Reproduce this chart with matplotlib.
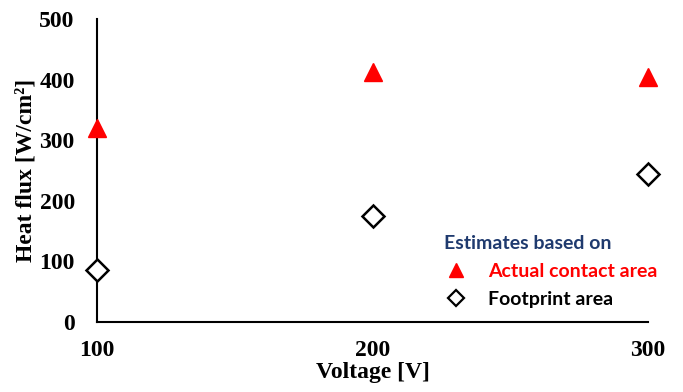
import matplotlib.pyplot as plt
from matplotlib.lines import Line2D

voltage = [100, 200, 300]
actual_contact = [320, 412, 404]
footprint = [86, 175, 244]

serif = ["Liberation Serif", "DejaVu Serif"]

fig = plt.figure(figsize=(6.83, 3.92), dpi=100)
ax = fig.add_axes([0.142, 0.1786, 0.807, 0.773])

ax.plot(voltage, actual_contact, linestyle="none", marker="^", markersize=13,
        color="#FF0000", clip_on=False, zorder=3)
ax.plot(voltage, footprint, linestyle="none", marker="D", markersize=11,
        markerfacecolor="white", markeredgecolor="black", markeredgewidth=1.8,
        clip_on=False, zorder=3)

ax.set_xlim(100, 300)
ax.set_ylim(0, 500)
ax.set_xticks([100, 200, 300])
ax.set_yticks(range(0, 501, 100))

for side in ("top", "right"):
    ax.spines[side].set_visible(False)
for side in ("left", "bottom"):
    ax.spines[side].set_linewidth(1.5)
    ax.spines[side].set_color("black")

ax.tick_params(axis="both", length=0, labelsize=17)
ax.tick_params(axis="y", pad=16)
ax.tick_params(axis="x", pad=13)
for lbl in ax.get_xticklabels() + ax.get_yticklabels():
    lbl.set_family(serif)
    lbl.set_fontweight("bold")

ax.set_xlabel("Voltage [V]", family=serif, fontweight="bold", fontsize=17, labelpad=1)
ax.set_ylabel("Heat flux [W/cm²]", family=serif, fontweight="bold", fontsize=17, labelpad=2)

handles = [
    Line2D([], [], linestyle="none", marker="^", markersize=10, color="#FF0000"),
    Line2D([], [], linestyle="none", marker="D", markersize=8,
           markerfacecolor="white", markeredgecolor="black", markeredgewidth=1.6),
]
leg = ax.legend(handles, ["Actual contact area", "Footprint area"],
                title="Estimates based on", frameon=False,
                loc="upper left", bbox_to_anchor=(0.597, 0.345),
                prop={"family": "Lato", "weight": "bold", "size": 14},
                title_fontproperties={"family": "Lato", "weight": "bold", "size": 14},
                labelcolor=["#FF0000", "black"], handlelength=1.3,
                handletextpad=1.0, labelspacing=0.57, alignment="left")
leg.get_title().set_color("#1F3A6E")

fig.savefig("out.png", dpi=100)
